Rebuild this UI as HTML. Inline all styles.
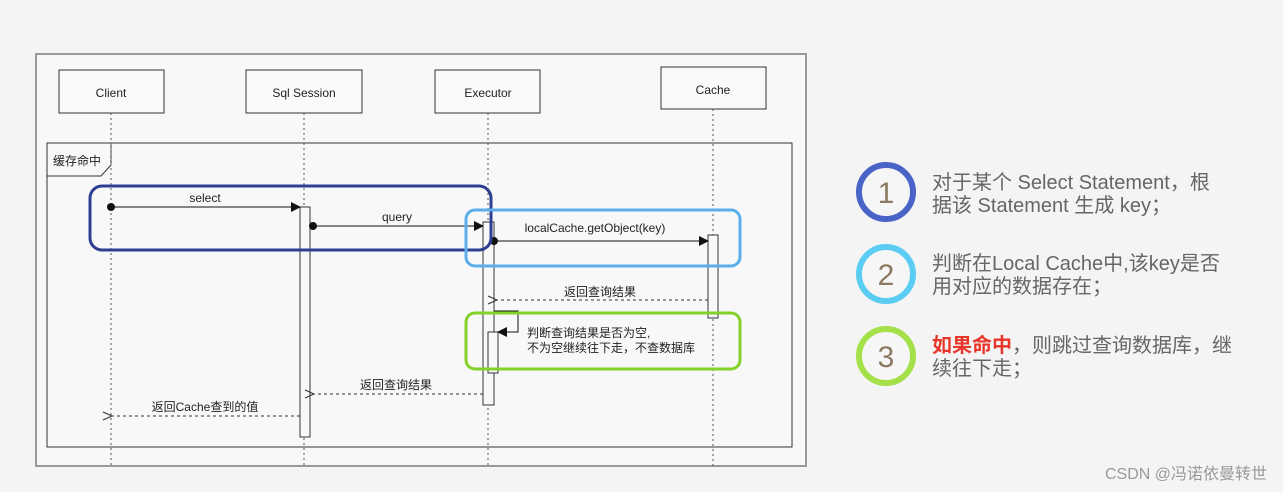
<!DOCTYPE html>
<html><head><meta charset="utf-8"><style>
html,body{margin:0;padding:0;background:#f4f4f4;}
svg{display:block;}
text{font-family:"Liberation Sans","Noto Sans CJK SC",sans-serif;}
</style></head><body>
<svg width="1283" height="492" viewBox="0 0 1283 492" xmlns="http://www.w3.org/2000/svg">
<defs>
<marker id="fa" markerWidth="10" markerHeight="10" refX="9" refY="5" orient="auto" markerUnits="userSpaceOnUse"><path d="M0,0 L10,5 L0,10 z" fill="#111"/></marker>
<marker id="oa" markerWidth="12" markerHeight="12" refX="1" refY="6" orient="auto" markerUnits="userSpaceOnUse"><path d="M10,2 L1,6 L10,10" fill="none" stroke="#333" stroke-width="1"/></marker>
</defs>
<rect width="1283" height="492" fill="#f4f4f4"/>
<rect x="36" y="54" width="770" height="412" fill="#f8f8f8" stroke="#999" stroke-width="2"/>
<g fill="#fafafa" stroke="#333" stroke-width="1">
<rect x="59" y="70" width="105" height="43"/>
<rect x="246" y="70" width="116" height="43"/>
<rect x="435" y="70" width="105" height="43"/>
<rect x="661" y="67" width="105" height="42"/>
</g>
<g font-size="12" fill="#222" text-anchor="middle">
<text x="111" y="97">Client</text>
<text x="304" y="97">Sql Session</text>
<text x="488" y="97">Executor</text>
<text x="713" y="94">Cache</text>
</g>
<rect x="47" y="143" width="745" height="304" fill="none" stroke="#333" stroke-width="1"/>
<path d="M47,176 L101,176 L111,165 L111,143" fill="none" stroke="#333"/>
<text x="53" y="165" font-size="12" fill="#222">缓存命中</text>
<g stroke="#555" stroke-dasharray="2,3" stroke-width="1">
<line x1="111" y1="113" x2="111" y2="466"/>
<line x1="304" y1="113" x2="304" y2="466"/>
<line x1="488" y1="113" x2="488" y2="466"/>
<line x1="713" y1="109" x2="713" y2="466"/>
</g>
<g fill="#f8f8f8" stroke="#333">
<rect x="300" y="207" width="10" height="230"/>
<rect x="483" y="222" width="11" height="183"/>
<rect x="708" y="235" width="10" height="83"/>
<rect x="488" y="332" width="10" height="41"/>
</g>
<g stroke="#111" stroke-width="1" fill="none">
<line x1="111" y1="207" x2="300" y2="207" marker-end="url(#fa)"/>
<line x1="313" y1="226" x2="483" y2="226" marker-end="url(#fa)"/>
<line x1="494" y1="241" x2="708" y2="241" marker-end="url(#fa)"/>
<path d="M494,311 L518,311 L518,332 L498,332" marker-end="url(#fa)"/>
</g>
<g fill="#111">
<circle cx="111" cy="207" r="4"/>
<circle cx="313" cy="226" r="4"/>
<circle cx="494" cy="241" r="4"/>
</g>
<g stroke="#333" stroke-width="1" stroke-dasharray="3,3" fill="none">
<line x1="708" y1="300" x2="497" y2="300" marker-end="url(#oa)"/>
<line x1="483" y1="394" x2="314" y2="394" marker-end="url(#oa)"/>
<line x1="300" y1="416" x2="112" y2="416" marker-end="url(#oa)"/>
</g>
<g font-size="12" fill="#222" text-anchor="middle">
<text x="205" y="202">select</text>
<text x="397" y="221">query</text>
<text x="595" y="232">localCache.getObject(key)</text>
<text x="600" y="296">返回查询结果</text>
<text x="396" y="389">返回查询结果</text>
<text x="205" y="411">返回Cache查到的值</text>
</g>
<text x="527" y="337" font-size="12" fill="#222">判断查询结果是否为空,</text>
<text x="527" y="352" font-size="12" fill="#222">不为空继续往下走，不查数据库</text>
<rect x="90" y="186" width="401" height="64" rx="12" fill="none" stroke="#2e3f8f" stroke-width="3"/>
<rect x="466" y="210" width="274" height="56" rx="9" fill="none" stroke="#5aaeea" stroke-width="3"/>
<rect x="466" y="313" width="274" height="56" rx="9" fill="none" stroke="#84d12a" stroke-width="3"/>
<circle cx="886" cy="192" r="27" fill="#f6f6f6" stroke="#4a63c6" stroke-width="6"/>
<circle cx="886" cy="274" r="27" fill="#f6f6f6" stroke="#5bcdf2" stroke-width="6"/>
<circle cx="886" cy="356" r="27" fill="#f6f6f6" stroke="#a3e04a" stroke-width="6"/>
<g font-size="30" fill="#8a7a60" text-anchor="middle">
<text x="886" y="203">1</text>
<text x="886" y="285">2</text>
<text x="886" y="367">3</text>
</g>
<g font-size="20" fill="#666">
<text x="932" y="189">对于某个 Select Statement，根</text>
<text x="932" y="212">据该 Statement 生成 key；</text>
<text x="932" y="270">判断在Local Cache中,该key是否</text>
<text x="932" y="293">用对应的数据存在；</text>
<text x="932" y="352"><tspan fill="#e8372a" font-weight="bold">如果命中</tspan>，则跳过查询数据库，继</text>
<text x="932" y="375">续往下走；</text>
</g>
<text x="1267" y="479" font-size="16" fill="#999" text-anchor="end">CSDN @冯诺依曼转世</text>
</svg>
</body></html>
